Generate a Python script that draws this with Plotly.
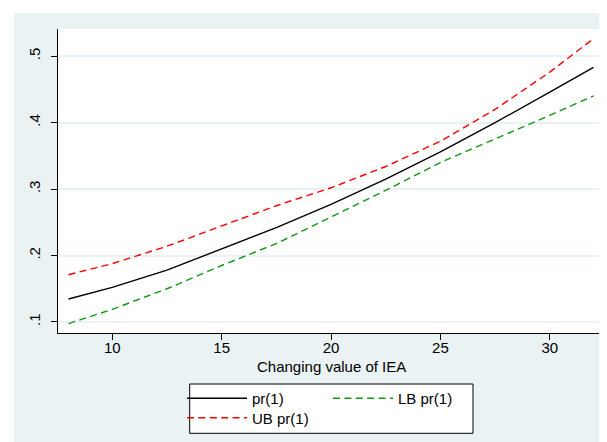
import plotly.graph_objects as go

# ---- data ----
iea = [8, 10, 12.5, 15, 17.5, 20, 22.5, 25, 27.5, 30, 32]
pr1 = [0.1346, 0.152, 0.178, 0.210, 0.242, 0.277, 0.315, 0.356, 0.400, 0.446, 0.4834]
lb_pr1 = [0.0975, 0.119, 0.150, 0.185, 0.218, 0.258, 0.298, 0.340, 0.375, 0.411, 0.4403]
ub_pr1 = [0.1711, 0.1878, 0.2140, 0.2440, 0.2750, 0.3020, 0.3340, 0.3720, 0.4200, 0.4760, 0.5265]

x_ticks = [10, 15, 20, 25, 30]
y_ticks = [0.1, 0.2, 0.3, 0.4, 0.5]
y_tick_labels = [".1", ".2", ".3", ".4", ".5"]
x_title = "Changing value of IEA"

# ---- layout geometry ----
W, H = 607, 442
ml, mr, mt, mb = 50, 11, 21, 117
pw = W - ml - mr
ph = H - mt - mb


def px2x(px):
    return (px - ml) / pw


def py2y(py):
    return (H - mb - py) / ph


BG = "rgb(234,242,243)"
FONT = "Liberation Sans, Arial, sans-serif"
DASH = "7px,4.4px"

fig = go.Figure()
fig.add_trace(go.Scatter(x=iea, y=pr1, mode="lines", name="pr(1)",
                         line=dict(color="black", width=1.4), legend="legend"))
fig.add_trace(go.Scatter(x=iea, y=lb_pr1, mode="lines", name="LB pr(1)",
                         line=dict(color="rgb(20,150,20)", width=1.4, dash=DASH),
                         legend="legend2"))
fig.add_trace(go.Scatter(x=iea, y=ub_pr1, mode="lines", name="UB pr(1)",
                         line=dict(color="rgb(255,0,0)", width=1.4, dash=DASH),
                         legend="legend3"))

shapes = [
    dict(type="rect", xref="paper", yref="paper", layer="below",
         x0=px2x(6), x1=px2x(W + 5), y0=py2y(H + 5), y1=py2y(5),
         fillcolor=BG, line=dict(width=0)),
    dict(type="rect", xref="paper", yref="paper", layer="below",
         x0=0, x1=1, y0=0, y1=1, fillcolor="white", line=dict(width=0)),
    dict(type="rect", xref="paper", yref="paper", layer="below",
         x0=px2x(181.7), x1=px2x(465), y0=py2y(425.3), y1=py2y(376),
         fillcolor="white", line=dict(color="black", width=1)),
]

leg_common = dict(bgcolor="rgba(0,0,0,0)", borderwidth=0,
                  font=dict(family=FONT, size=15, color="black"),
                  xanchor="left", yanchor="top", orientation="v",
                  itemwidth=60, tracegroupgap=0)

fig.update_layout(
    width=W, height=H,
    margin=dict(l=ml, r=mr, t=mt, b=mb, pad=0),
    paper_bgcolor="white",
    plot_bgcolor="rgba(0,0,0,0)",
    font=dict(family=FONT, size=15, color="black"),
    shapes=shapes,
    showlegend=True,
    legend=dict(x=px2x(174), y=py2y(374), **leg_common),
    legend2=dict(x=px2x(320), y=py2y(374), **leg_common),
    legend3=dict(x=px2x(174), y=py2y(393.5), **leg_common),
    annotations=[dict(text=x_title, xref="paper", yref="paper", x=0.5,
                      y=py2y(358.5), xanchor="center", yanchor="middle",
                      showarrow=False,
                      font=dict(family=FONT, size=15, color="black"))],
    xaxis=dict(range=[7.52, 32.48], tickvals=x_ticks, ticks="outside", ticklen=6,
               tickcolor="black", showline=True, linecolor="black", linewidth=1,
               showgrid=False, zeroline=False, mirror=False,
               ticklabelstandoff=-5,
               tickfont=dict(family=FONT, size=15, color="black")),
    yaxis=dict(range=[0.0834, 0.541], tickvals=y_ticks, ticktext=y_tick_labels,
               ticks="outside", ticklen=6, tickcolor="black", tickangle=-90,
               showline=True, linecolor="black", linewidth=1,
               ticklabelstandoff=5,
               showgrid=True, gridcolor=BG, gridwidth=1.5, zeroline=False,
               tickfont=dict(family=FONT, size=15, color="black")),
)

fig.write_html("out.html")
